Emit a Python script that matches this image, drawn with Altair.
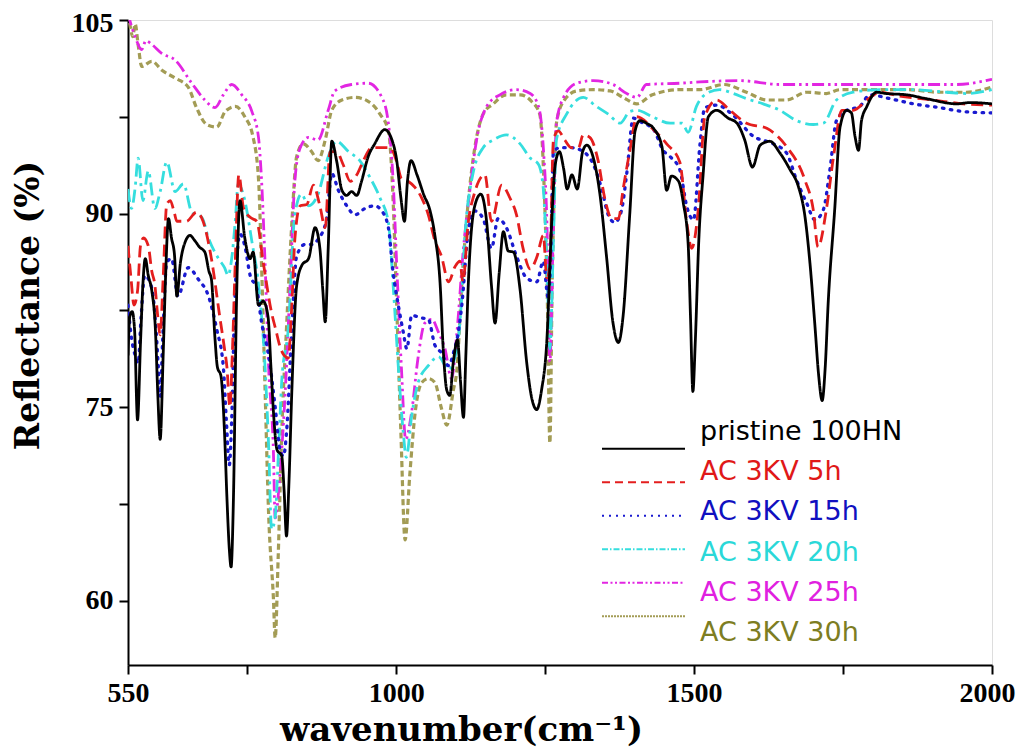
import altair as alt
import pandas as pd

# ---------------- data ----------------
series_names = ["pristine 100HN", "AC 3KV 5h", "AC 3KV 15h", "AC 3KV 20h", "AC 3KV 25h", "AC 3KV 30h"]

pristine_x = [550, 553, 557, 561, 566, 571, 575, 579, 584, 590, 596, 600, 604, 609, 613, 618, 623, 628, 632, 638,
              646, 654, 662, 670, 679, 686, 690, 696, 700, 706, 712, 716, 720, 723, 727, 732, 738, 746, 755, 760,
              769, 777, 785, 790, 795, 800, 808, 812, 816, 820, 825, 833, 842, 853, 864, 872, 877, 881, 886, 892,
              900, 909, 917, 925, 934, 942, 953, 964, 981, 993, 1001, 1008, 1014, 1019, 1025, 1035, 1046, 1057,
              1065, 1074, 1079, 1085, 1090, 1096, 1103, 1108, 1113, 1117, 1121, 1132, 1142, 1152, 1160, 1166,
              1173, 1180, 1188, 1197, 1208, 1219, 1228, 1236, 1244, 1253, 1261, 1267, 1274, 1281, 1287, 1295,
              1304, 1313, 1320, 1331, 1342, 1353, 1364, 1373, 1381, 1392, 1401, 1409, 1420, 1432, 1446, 1454,
              1462, 1474, 1482, 1490, 1494, 1498, 1502, 1508, 1515, 1524, 1538, 1557, 1572, 1585, 1598, 1611,
              1627, 1644, 1661, 1675, 1686, 1694, 1703, 1709, 1715, 1720, 1725, 1736, 1745, 1756, 1764, 1770,
              1776, 1781, 1790, 1806, 1823, 1857, 1890, 1941, 1963, 2000]
pristine_y = [79.0, 82.0, 82.4, 81.0, 74.0, 80.0, 84.5, 86.5, 85.2, 84.0, 81.0, 76.0, 72.5, 79.0, 85.0, 89.6, 88.1,
              86.8, 83.6, 86.2, 87.8, 88.3, 87.9, 87.4, 87.0, 85.5, 84.9, 80.3, 78.1, 77.4, 73.0, 68.0, 64.0, 62.6,
              68.0, 82.9, 91.0, 88.1, 86.5, 87.0, 82.9, 83.2, 82.0, 78.0, 74.0, 71.7, 71.2, 68.5, 65.0, 69.0, 76.3,
              84.4, 86.0, 86.5, 88.9, 87.3, 84.0, 81.6, 87.3, 95.6, 94.1, 91.8, 91.4, 91.7, 91.4, 92.5, 94.4, 95.4,
              96.5, 95.7, 94.1, 91.2, 89.4, 92.5, 94.1, 93.0, 91.5, 90.2, 88.3, 84.4, 79.5, 76.3, 75.9, 78.5, 80.2,
              77.0, 74.2, 79.0, 84.4, 90.6, 91.5, 89.3, 84.4, 81.5, 85.4, 88.6, 87.1, 87.0, 84.1, 78.5, 75.6, 74.8,
              76.3, 80.2, 89.3, 93.8, 94.8, 93.5, 91.9, 93.0, 91.9, 94.8, 95.3, 94.3, 91.5, 86.7, 81.5, 80.0, 82.1,
              89.9, 96.4, 97.2, 97.0, 96.6, 95.2, 91.8, 92.9, 92.5, 90.8, 87.7, 82.0, 76.2, 80.0, 88.0, 92.9, 97.5,
              98.0, 97.4, 97.0, 95.7, 93.6, 95.3, 95.6, 94.7, 93.4, 92.1, 89.8, 86.4, 81.2, 77.5, 75.5, 78.0, 83.0,
              90.3, 96.7, 98.0, 97.8, 96.0, 94.9, 97.2, 98.3, 99.4, 99.3, 99.2, 98.9, 98.5, 98.6, 98.5]

h5_x = [550, 555, 560, 566, 571, 576, 584, 590, 595, 600, 604, 609, 615, 621, 628, 632, 648, 665, 676, 690, 704,
        712, 716, 721, 725, 730, 736, 744, 755, 766, 777, 791, 798, 805, 812, 819, 825, 830, 839, 850, 861, 872,
        881, 889, 900, 911, 923, 934, 945, 959, 976, 990, 1001, 1009, 1020, 1032, 1043, 1054, 1065, 1076, 1088,
        1099, 1107, 1112, 1121, 1131, 1149, 1160, 1177, 1191, 1202, 1213, 1225, 1236, 1247, 1253, 1258, 1264,
        1272, 1283, 1294, 1306, 1314, 1325, 1339, 1350, 1362, 1373, 1381, 1392, 1404, 1432, 1454, 1476, 1488,
        1496, 1507, 1518, 1538, 1560, 1588, 1622, 1655, 1686, 1700, 1708, 1722, 1734, 1748, 1767, 1790, 1812,
        1845, 1901, 1952, 2000]
h5_y = [87.5, 85.0, 82.9, 84.0, 87.5, 88.1, 87.5, 85.5, 84.5, 82.0, 80.6, 85.0, 90.7, 91.0, 90.0, 89.4, 89.4, 90.1,
        89.4, 86.5, 82.0, 79.5, 78.1, 75.0, 79.0, 86.2, 93.0, 90.4, 89.7, 89.4, 86.2, 82.3, 81.0, 79.7, 79.0, 78.8,
        83.0, 88.0, 90.6, 90.7, 92.2, 90.6, 88.9, 94.8, 94.8, 93.8, 92.5, 93.0, 94.1, 95.1, 95.1, 95.1, 94.0, 92.7,
        92.5, 92.0, 91.2, 89.9, 87.9, 86.7, 84.7, 85.9, 86.3, 84.7, 89.3, 91.5, 93.0, 89.4, 92.2, 91.2, 89.9, 87.3,
        85.7, 86.6, 88.3, 85.0, 86.0, 95.7, 96.4, 95.7, 95.1, 95.1, 96.1, 95.9, 94.1, 91.2, 89.6, 89.6, 91.9, 94.8,
        97.5, 96.5, 95.4, 94.0, 89.2, 87.3, 90.3, 97.5, 98.8, 98.0, 97.0, 96.6, 95.2, 92.6, 90.3, 87.4, 90.3, 94.4,
        98.0, 98.0, 98.8, 99.4, 99.1, 98.8, 98.5, 98.4]

h15_x = [550, 556, 562, 567, 572, 578, 590, 597, 601, 604, 608, 615, 623, 634, 651, 668, 685, 699, 710, 715, 720,
         724, 729, 738, 746, 755, 766, 774, 786, 797, 805, 811, 816, 825, 833, 847, 860, 869, 883, 892, 903, 917,
         931, 948, 964, 976, 987, 995, 1004, 1012, 1018, 1026, 1043, 1054, 1065, 1076, 1088, 1098, 1102, 1110,
         1121, 1132, 1146, 1160, 1171, 1185, 1202, 1219, 1236, 1247, 1255, 1259, 1264, 1275, 1294, 1314, 1331,
         1345, 1356, 1367, 1378, 1387, 1398, 1406, 1432, 1448, 1460, 1476, 1488, 1499, 1510, 1518, 1538, 1566,
         1599, 1633, 1655, 1672, 1689, 1703, 1717, 1728, 1739, 1756, 1778, 1795, 1829, 1868, 1913, 1952, 2000]
h15_y = [82.9, 80.3, 79.0, 78.4, 82.0, 85.2, 84.2, 81.0, 78.0, 75.8, 80.0, 86.2, 86.5, 83.6, 85.8, 84.9, 83.6, 81.0,
         78.1, 74.0, 70.5, 74.0, 82.9, 88.4, 87.5, 85.2, 84.2, 81.6, 79.0, 75.0, 71.7, 71.2, 73.0, 81.1, 86.7, 87.6,
         87.6, 88.0, 89.5, 93.1, 91.8, 90.6, 89.9, 90.4, 90.6, 90.2, 88.9, 85.4, 82.8, 80.8, 79.5, 82.1, 81.9, 81.8,
         79.8, 79.2, 78.2, 79.5, 80.2, 82.8, 88.6, 90.2, 89.6, 87.3, 89.6, 88.9, 86.7, 85.0, 84.7, 86.3, 83.5, 86.0,
         94.8, 95.1, 95.1, 94.8, 93.8, 91.9, 89.9, 89.3, 90.2, 93.1, 97.4, 97.2, 96.5, 94.9, 94.4, 93.4, 90.5, 89.5,
         95.4, 98.2, 98.4, 97.6, 96.0, 95.4, 94.7, 92.6, 90.8, 89.5, 90.3, 93.4, 97.2, 98.0, 98.3, 99.2, 98.9, 98.5,
         98.2, 97.9, 97.8]

h20_x = [550, 556, 562, 567, 575, 584, 595, 604, 615, 629, 643, 657, 674, 685, 702, 712, 718, 724, 730, 735, 744,
         758, 769, 780, 786, 791, 797, 803, 808, 819, 830, 841, 853, 869, 886, 900, 920, 939, 956, 973, 987, 995,
         1004, 1012, 1017, 1026, 1037, 1054, 1071, 1088, 1102, 1108, 1116, 1129, 1146, 1163, 1185, 1208, 1225,
         1239, 1247, 1253, 1258, 1264, 1269, 1286, 1314, 1336, 1356, 1376, 1392, 1404, 1430, 1460, 1480, 1490,
         1504, 1521, 1543, 1566, 1588, 1616, 1644, 1672, 1700, 1717, 1739, 1767, 1812, 1868, 1924, 1957, 2000]
h20_y = [91.9, 90.4, 92.0, 94.3, 91.0, 93.3, 90.4, 91.7, 94.0, 91.7, 92.3, 90.1, 89.7, 88.1, 86.5, 85.8, 85.2, 86.5,
         89.4, 92.3, 91.4, 87.8, 84.5, 78.1, 72.0, 65.5, 66.5, 72.0, 77.0, 81.1, 89.9, 91.5, 90.6, 91.5, 94.4, 95.6,
         94.8, 94.1, 92.8, 91.2, 89.3, 84.4, 77.9, 73.0, 71.1, 74.3, 76.9, 78.2, 78.9, 77.9, 79.5, 82.1, 88.6, 93.1,
         95.1, 95.7, 96.1, 95.4, 94.3, 93.8, 91.9, 86.0, 79.5, 88.0, 95.7, 97.7, 99.0, 98.3, 97.7, 97.0, 97.9, 98.0,
         97.5, 97.0, 97.0, 96.3, 98.3, 99.3, 99.6, 99.3, 98.9, 98.5, 98.0, 97.2, 96.9, 97.0, 98.8, 99.4, 99.6, 99.6,
         99.4, 99.3, 99.6]

h25_x = [550, 556, 562, 573, 580, 590, 607, 629, 657, 679, 696, 710, 724, 741, 758, 769, 774, 780, 786, 794, 797,
         805, 814, 822, 830, 839, 853, 869, 886, 897, 925, 953, 976, 987, 995, 1001, 1009, 1016, 1026, 1037, 1048,
         1060, 1071, 1082, 1093, 1102, 1113, 1124, 1135, 1152, 1174, 1202, 1225, 1239, 1247, 1253, 1258, 1264,
         1269, 1281, 1303, 1331, 1364, 1387, 1404, 1420, 1476, 1510, 1577, 1644, 1728, 1790, 1857, 1940, 2000]
h25_y = [105.5, 104.5, 103.7, 102.7, 103.4, 103.1, 102.4, 101.9, 100.1, 98.8, 98.2, 99.2, 100.0, 99.2, 97.9, 95.9,
         92.7, 86.2, 78.1, 71.6, 66.4, 69.8, 76.3, 84.4, 92.5, 95.1, 95.9, 95.7, 98.0, 99.5, 100.0, 100.1, 99.0,
         97.0, 92.5, 86.0, 77.9, 72.5, 74.6, 78.9, 81.5, 81.8, 80.8, 79.5, 77.2, 80.8, 87.3, 91.9, 95.7, 98.3, 99.2,
         99.6, 99.3, 98.3, 95.1, 89.3, 78.5, 89.3, 97.0, 99.0, 100.1, 100.3, 100.0, 99.3, 99.0, 100.0, 100.1, 100.2,
         100.3, 100.0, 100.0, 100.0, 100.0, 100.0, 100.4]

h30_x = [550, 553, 558, 562, 567, 573, 590, 607, 629, 651, 665, 682, 699, 713, 730, 746, 760, 769, 774, 780, 786,
         794, 797, 802, 808, 816, 825, 833, 844, 858, 869, 881, 892, 909, 931, 953, 973, 987, 995, 1001, 1008, 1015,
         1023, 1032, 1043, 1054, 1065, 1076, 1085, 1096, 1102, 1110, 1121, 1132, 1146, 1163, 1185, 1208, 1227,
         1241, 1248, 1254, 1258, 1262, 1264, 1269, 1281, 1303, 1331, 1359, 1381, 1404, 1430, 1476, 1510, 1550,
         1588, 1622, 1655, 1689, 1722, 1745, 1800, 1856, 1912, 1957, 2000]
h30_y = [105.5, 104.7, 103.7, 104.7, 103.1, 101.4, 101.8, 101.1, 100.5, 99.8, 98.2, 96.9, 96.7, 97.9, 98.3, 97.5,
         95.9, 92.7, 86.2, 76.4, 66.7, 60.2, 57.1, 63.3, 73.0, 81.1, 89.3, 94.4, 95.4, 94.8, 94.1, 95.7, 98.0, 98.8,
         99.0, 98.7, 97.7, 96.4, 90.9, 82.8, 73.0, 64.7, 69.8, 74.6, 76.9, 77.2, 76.9, 74.9, 73.6, 76.3, 77.9, 84.4,
         90.9, 95.1, 97.7, 98.5, 99.2, 99.2, 98.7, 97.7, 92.5, 82.8, 72.2, 85.0, 89.3, 97.0, 98.7, 99.5, 99.6, 99.5,
         99.0, 98.5, 99.2, 99.6, 99.6, 100.0, 99.4, 98.8, 98.8, 99.4, 99.3, 99.6, 99.6, 99.6, 99.4, 99.4, 99.8]

x_tick_values = [550, 750, 1000, 1250, 1500, 1750, 2000]
y_tick_values = [60, 67.5, 75, 82.5, 90, 97.5, 105]

series_x = [pristine_x, h5_x, h15_x, h20_x, h25_x, h30_x]
series_y = [pristine_y, h5_y, h15_y, h20_y, h25_y, h30_y]

# ---------------- styles ----------------
line_colors = ["#000000", "#e41e1e", "#1a1ad0", "#36dede", "#e226e2", "#a39c55"]
text_colors = ["#000000", "#e01818", "#1010c0", "#2ad8d8", "#e020e0", "#7d7d22"]
dashes = [[1, 0], [12, 6], [1.5, 6.5], [13, 5, 3, 5], [12, 4, 2.5, 4, 2.5, 4], [6, 3.5]]
caps = ["butt", "butt", "round", "butt", "butt", "butt"]
widths = [2.8, 2.8, 3.3, 2.8, 2.8, 3.2]
legend_dashes = [[1, 0], [8, 5], [2, 5], [6, 2, 1.5, 2], [6, 2.5, 2, 2.5, 2, 2.5], [2, 1]]
draw_order = [5, 4, 3, 2, 1, 0]

SERIF = "Liberation Serif"
TITLE_SERIF = "DejaVu Serif"
SANS = "DejaVu Sans"

x_scale = alt.Scale(domain=[550, 2000], nice=False, zero=False)
y_scale = alt.Scale(domain=[55, 105], nice=False, zero=False)

x_axis = alt.Axis(values=x_tick_values, format="d",
                  labelExpr="(datum.value == 550 || datum.value == 1000 || datum.value == 1500 || datum.value == 2000) ? datum.label : ''",
                  labelOffset={"condition": {"test": "datum.value == 2000", "value": -5}, "value": 0},
                  title="wavenumber(cm⁻¹)", titleFont=TITLE_SERIF, titleFontSize=34, titleFontWeight="bold",
                  titleColor="black", titleX=333, titleY=75, titleAlign="center", titleBaseline="alphabetic",
                  labelFont=SERIF, labelFontSize=28, labelFontWeight="bold", labelColor="black",
                  labelFlush=False, labelPadding=5, labelOverlap=False,
                  tickSize=9, tickWidth=2, tickColor="black", domainColor="black", domainWidth=2, grid=False)
y_axis = alt.Axis(values=y_tick_values, format="d",
                  labelExpr="(datum.value % 15 == 0) ? datum.label : ''",
                  labelOffset={"condition": {"test": "datum.value == 105", "value": 3}, "value": 0},
                  title="Reflectance (%)", titleFont=TITLE_SERIF, titleFontSize=33, titleFontWeight="bold",
                  titleColor="black", titleAngle=270, titleX=-83, titleY=285,
                  titleAlign="center", titleBaseline="bottom",
                  labelFont=SERIF, labelFontSize=28, labelFontWeight="bold", labelColor="black",
                  labelFlush=False, labelPadding=6, labelOverlap=False,
                  tickSize=9, tickWidth=2, tickColor="black", domainColor="black", domainWidth=2, grid=False)

layers = []
first = True
for i in draw_order:
    df = pd.DataFrame({"x": series_x[i], "y": series_y[i]})
    layers.append(
        alt.Chart(df).mark_line(color=line_colors[i], strokeDash=dashes[i], strokeWidth=widths[i],
                                strokeCap=caps[i], clip=True, interpolate="monotone")
        .encode(x=alt.X("x:Q", scale=x_scale, axis=x_axis),
                y=alt.Y("y:Q", scale=y_scale, axis=y_axis if first else None))
    )
    first = False

# ---------------- legend (drawn inside the plot) ----------------
legend_scale = alt.Scale(domain=series_names, range=[412, 613], padding=0)
for i, name in enumerate(series_names):
    ldf = pd.DataFrame({"label": [name]})
    layers.append(
        alt.Chart(ldf).mark_rule(color=line_colors[i], strokeDash=legend_dashes[i], strokeWidth=2)
        .encode(x=alt.value(474), x2=alt.value(557),
                y=alt.Y("label:N", scale=legend_scale, axis=None))
    )
    layers.append(
        alt.Chart(ldf).mark_text(color=text_colors[i], font=SANS, fontSize=27, align="left", baseline="middle")
        .encode(x=alt.value(572), y=alt.Y("label:N", scale=legend_scale, axis=None), text="label:N")
    )

chart = (
    alt.layer(*layers)
    .resolve_scale(y="independent")
    .properties(width=864, height=645, autosize="none",
                padding={"left": 120, "top": 12, "right": 24, "bottom": 84})
    .configure_view(stroke="black", strokeWidth=2)
    .configure(background="white")
)

chart.save("out.html", embed_options={"renderer": "svg", "actions": False})
